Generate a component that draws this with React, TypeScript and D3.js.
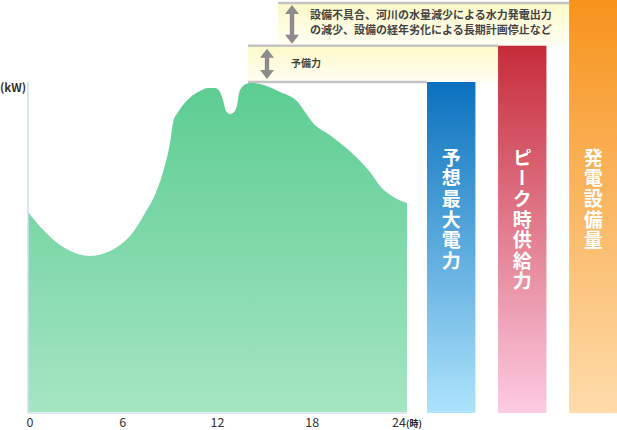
import React from "react";
import * as d3 from "d3";

const hours = [0, 0.95, 2.03, 2.98, 3.93, 4.88, 5.83, 6.65, 7.41, 8.04, 8.55, 8.99, 9.18, 9.5, 9.82, 10.39, 10.89, 11.4, 11.84, 12.16, 12.35, 12.54, 12.79, 13.05, 13.24, 13.37, 13.62, 14.06, 14.69, 15.96, 17.1, 17.54, 18.05, 19.13, 20.08, 20.84, 21.66, 22.29, 22.93, 24];
const demand = [60.6, 55.2, 50.6, 48.2, 47.3, 48.2, 50.6, 54.5, 60.3, 65.8, 72.7, 81.5, 87.6, 90.9, 93.0, 95.8, 97.3, 98.2, 98.2, 97.0, 94.5, 91.2, 90.3, 90.9, 93.0, 96.7, 98.8, 99.7, 99.4, 97.0, 93.9, 90.9, 87.6, 83.9, 80.3, 77.0, 72.7, 68.5, 65.8, 63.3];
const xTicks = [0, 6, 12, 18, 24];
const barLabels = ["予想最大電力", "ピーク時供給力", "発電設備量"];
const barValues = [100, 111, 125];
const barColors = [["#0a71be", "#aee4fc"], ["#c62c39", "#fdcce2"], ["#f7931c", "#fedcab"]];
const reserveLabel = "予備力";
const marginLines = ["設備不具合、河川の水量減少による水力発電出力", "の減少、設備の経年劣化による長期計画停止など"];

const FONT = "'Noto Sans CJK JP', 'Noto Sans', sans-serif";

function Arrow({ x, y1, y2 }: { x: number; y1: number; y2: number }) {
  const hw = 7, hh = 9;
  const p = `M${x},${y1} L${x + hw},${y1 + hh} L${x + 2.2},${y1 + hh} L${x + 2.2},${y2 - hh} L${x + hw},${y2 - hh} L${x},${y2} L${x - hw},${y2 - hh} L${x - 2.2},${y2 - hh} L${x - 2.2},${y1 + hh} L${x - hw},${y1 + hh} Z`;
  return <path d={p} fill="#8c8c8c" />;
}

export default function App() {
  const x = d3.scaleLinear().domain([0, 24]).range([28, 407]);
  const y = d3.scaleLinear().domain([0, 100]).range([412, 82]);
  const bx = d3.scaleBand<string>().domain(barLabels).range([427, 617.5]).paddingInner(0.319).paddingOuter(0);

  const area = d3
    .area<number>()
    .x((_, i) => x(hours[i]))
    .y0(y(0))
    .y1((d) => y(d))
    .curve(d3.curveMonotoneX);

  const yMax = y(barValues[0]);
  const ySup = y(barValues[1]);
  const yCap = Math.max(3, y(barValues[2]));

  return (
    <svg width={617} height={430} style={{ position: "absolute", left: 0, top: 0 }} fontFamily={FONT}>
      <defs>
        <linearGradient id="gArea" x1="0" y1="0" x2="0" y2="1">
          <stop offset="0" stopColor="#5ccd92" />
          <stop offset="1" stopColor="#a5e5c2" />
        </linearGradient>
        {barColors.map((c, i) => (
          <linearGradient key={i} id={`gBar${i}`} x1="0" y1="0" x2="0" y2="1">
            <stop offset="0" stopColor={c[0]} />
            <stop offset="1" stopColor={c[1]} />
          </linearGradient>
        ))}
        <linearGradient id="gBand" x1="0" y1="0" x2="0" y2="1">
          <stop offset="0" stopColor="#fdf9c8" />
          <stop offset="1" stopColor="#fffef4" />
        </linearGradient>
      </defs>

      {/* reserve bands */}
      <rect x={278} y={yCap} width={bx(barLabels[2])! - 278} height={ySup - yCap} fill="url(#gBand)" />
      <rect x={248} y={ySup} width={bx(barLabels[1])! - 248} height={yMax - ySup} fill="url(#gBand)" />
      <line x1={278} x2={bx(barLabels[2])!} y1={yCap} y2={yCap} stroke="#c4c4c4" strokeWidth={2.5} />
      <line x1={248} x2={bx(barLabels[1])!} y1={ySup} y2={ySup} stroke="#c4c4c4" strokeWidth={2.5} />
      <line x1={248} x2={bx(barLabels[0])!} y1={yMax} y2={yMax} stroke="#c4c4c4" strokeWidth={2.5} />
      <Arrow x={292} y1={yCap + 2} y2={ySup - 2} />
      <Arrow x={267} y1={ySup + 3} y2={yMax - 3} />
      <text x={291} y={(ySup + yMax) / 2 + 3.5} fontSize={10} fontWeight="bold" fill="#444">{reserveLabel}</text>
      {marginLines.map((t, i) => (
        <text key={i} x={310} y={19 + i * 15} fontSize={11} fontWeight="bold" fill="#444">{t}</text>
      ))}

      {/* demand area */}
      <path d={area(demand)!} fill="url(#gArea)" />
      <line x1={28} x2={28} y1={82} y2={413} stroke="#cfdff2" strokeWidth={1.5} />
      <line x1={28} x2={407} y1={413} y2={413} stroke="#d6e0f0" strokeWidth={1.5} />
      <text x={0} y={92} fontSize={11.5} fontWeight="bold" fill="#333">(kW)</text>
      {xTicks.map((t) => (
        <text key={t} x={t === 24 ? x(t) - 8 : x(t) + (t === 0 ? 2 : 0)} y={427} fontSize={12.5} textAnchor="middle" fill="#333">{t}</text>
      ))}
      <text x={x(24) - 1} y={427} fontSize={9} fontWeight="bold" fill="#222">(時)</text>

      {/* bars */}
      {barLabels.map((lab, i) => {
        const bx0 = bx(lab)!;
        const w = bx.bandwidth();
        const top = Math.max(0, y(barValues[i]));
        const cx = bx0 + w / 2;
        return (
          <g key={lab}>
            <rect x={bx0} y={top} width={w} height={413 - top} fill={`url(#gBar${i})`} />
            <text
              x={cx}
              y={148}
              fontSize={19}
              fontWeight="bold"
              fill="#fff"
              letterSpacing={1.6}
              style={{ writingMode: "vertical-rl" } as React.CSSProperties}
            >
              {lab}
            </text>
          </g>
        );
      })}
    </svg>
  );
}
